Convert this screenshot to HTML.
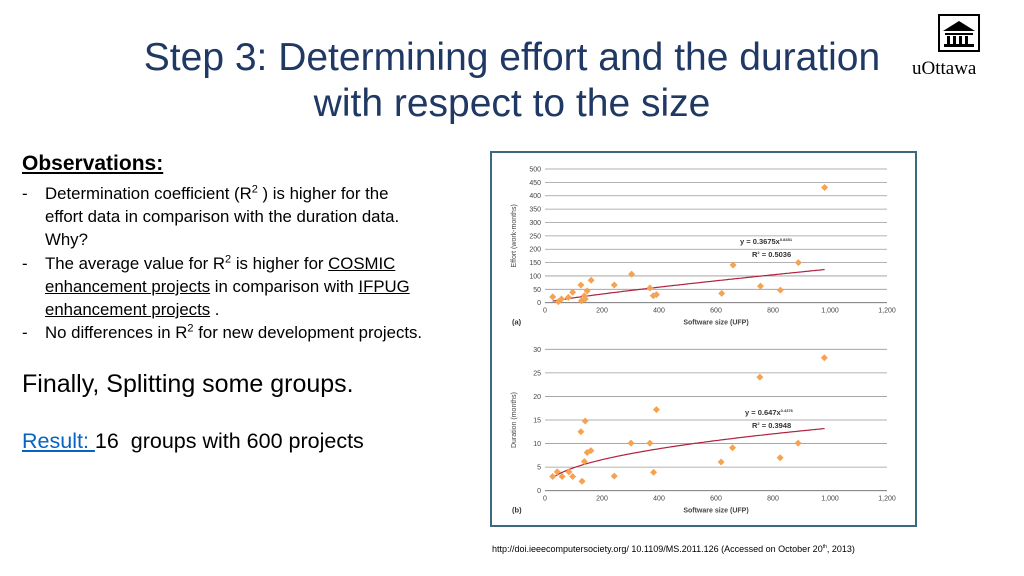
<!DOCTYPE html>
<html><head><meta charset="utf-8"><style>
body{margin:0;width:1024px;height:576px;background:#fff;position:relative;overflow:hidden;font-family:"Liberation Sans",sans-serif;}
.t{position:absolute;white-space:nowrap;color:#000;}
.title{position:absolute;left:0;width:1024px;text-align:center;color:#1f3864;font-size:39px;letter-spacing:0px;}
.ln{position:absolute;white-space:nowrap;font-size:16.8px;line-height:20px;}
u{text-decoration:underline;}
sup{font-size:11px;line-height:0;}
</style></head><body>
<div class="title" style="top:36px">Step 3: Determining effort and the duration</div>
<div class="title" style="top:82px">with respect to the size</div>

<div style="position:absolute;left:905px;top:10px;width:115px;height:68px;">
<svg width="115" height="68" viewBox="0 0 115 68">
<rect x="34" y="5" width="40" height="36" fill="none" stroke="#000" stroke-width="2"/>
<path d="M38 21 L54 11 L70 21 Z" fill="#000"/>
<rect x="40" y="23" width="28" height="2" fill="#000"/>
<rect x="42" y="26" width="3" height="8" fill="#000"/><rect x="48" y="26" width="3" height="8" fill="#000"/><rect x="54" y="26" width="3" height="8" fill="#000"/><rect x="60" y="26" width="3" height="8" fill="#000"/>
<rect x="39" y="34" width="30" height="3" fill="#000"/>
<text x="7" y="64" font-family="Liberation Serif,serif" font-size="19" fill="#000">uOttawa</text>
</svg></div>

<div class="t" style="left:22px;top:152px;font-size:21px;font-weight:bold"><u>Observations:</u></div>
<div>
<div class="ln" style="left:22px;top:184px">-</div><div class="ln" style="left:45px;top:184px">Determination coefficient (R<sup>2</sup> ) is higher for the</div>
<div class="ln" style="left:45px;top:207px">effort data in comparison with the duration data.</div>
<div class="ln" style="left:45px;top:230px">Why?</div>
<div class="ln" style="left:22px;top:254px">-</div><div class="ln" style="left:45px;top:254px">The average value for R<sup>2</sup> is higher for <u>COSMIC</u></div>
<div class="ln" style="left:45px;top:277px"><u>enhancement projects</u> in comparison with <u>IFPUG</u></div>
<div class="ln" style="left:45px;top:300px"><u>enhancement projects</u> .</div>
<div class="ln" style="left:22px;top:323px">-</div><div class="ln" style="left:45px;top:323px">No differences in R<sup>2</sup> for new development projects.</div>
</div>
<div class="t" style="left:22px;top:370px;font-size:25px">Finally, Splitting some groups.</div>
<div class="t" style="left:22px;top:429px;font-size:21.5px"><u style="color:#0563c1">Result: </u>16&nbsp; groups with 600 projects</div>
<div class="t" style="left:492px;top:544px;font-size:9px">http://doi.ieeecomputersociety.org/ 10.1109/MS.2011.126 (Accessed on October 20<sup style="font-size:5px">th</sup>, 2013)</div>

<svg id="ch" width="1024" height="576" style="position:absolute;left:0;top:0">
<rect x="491" y="152" width="425" height="374" fill="none" stroke="#3b6a80" stroke-width="2"/>
</svg>
<script>
const sizes=[27,47,58,82,97,126,128,138,141,148,162,243,304,368,380,391,620,660,756,826,889,981];
const effort=[22,4,14,20,39,66,7,26,14,44,84,66,107,55,26,30,35,141,62,47,150,431];
const sizesB=[27,43,60,84,97,126,130,138,141,148,161,243,302,368,381,391,618,658,754,825,888,980];
const duration=[3,4,3,4,3,12.5,2,6.2,14.8,8.1,8.5,3.1,10.1,10.1,3.9,17.2,6.1,9.1,24.1,7,10.1,28.2];
const xTicks=[0,200,400,600,800,1000,1200];
const xTickLabels=["0","200","400","600","800","1,000","1,200"];
const effortTicks=[0,50,100,150,200,250,300,350,400,450,500];
const durationTicks=[0,5,10,15,20,25,30];
const fitA=[0.3675,0.8451], fitB=[0.647,0.4376];
const svg=document.getElementById('ch');const NS='http://www.w3.org/2000/svg';
function el(t,a){const e=document.createElementNS(NS,t);for(const k in a)e.setAttribute(k,a[k]);svg.appendChild(e);return e;}
const xs=v=>545+v*342/1200;
function panel(p){
 const ys=v=>p.y0-(v-0)*(p.y0-p.y1)/p.max;
 p.ticks.forEach(t=>{
  const l=el('line',{x1:xs(0),x2:xs(1200),y1:ys(t),y2:ys(t),stroke:t===0?'#666':'#999','stroke-width':0.8});
  
  const tx=el('text',{x:xs(0)-4,y:ys(t)+2.5,'font-size':7,'text-anchor':'end',fill:'#444'});tx.textContent=t;
  
 });
 xTicks.forEach((t,i)=>{
  const tx=el('text',{x:xs(t),y:p.y0+10,'font-size':7,'text-anchor':'middle',fill:'#444'});tx.textContent=xTickLabels[i];
  
 });
 let xt=el('text',{x:xs(600),y:p.y0+22,'font-size':7,'font-weight':'bold','text-anchor':'middle',fill:'#444'});xt.textContent='Software size (UFP)';
 
 let pl=el('text',{x:512,y:p.y0+22,'font-size':7.5,'font-weight':'bold',fill:'#333'});pl.textContent=p.label;
 
 const cy=(p.y0+p.y1)/2;
 let yt=el('text',{x:516,y:cy,'font-size':7,'text-anchor':'middle',fill:'#444',transform:`rotate(-90 516 ${cy})`});yt.textContent=p.ytitle;
 
 let d='';for(let x=27;x<=981;x+=6){d+=(d?'L':'M')+xs(x).toFixed(1)+' '+ys(p.fit[0]*Math.pow(x,p.fit[1])).toFixed(1);}
 let c=el('path',{d:d,fill:'none',stroke:'#b0203f','stroke-width':1.2});
 
 p.xv.forEach((x,i)=>{const X=xs(x),Y=ys(p.yv[i]);
  const m=el('path',{d:`M${X} ${Y-3.5}L${X+3.5} ${Y}L${X} ${Y+3.5}L${X-3.5} ${Y}Z`,fill:'#f5a352'});
  });
 p.eq.forEach((s,i)=>{const t=el('text',{x:p.eqx[i],y:p.eqy[i],'font-size':7.5,'font-weight':'bold',fill:'#333'});t.innerHTML=s;
  });
}
panel({y0:302.7,y1:169,max:500,ticks:effortTicks,xv:sizes,yv:effort,fit:fitA,label:'(a)',ytitle:'Effort (work-months)',
 eq:['y = 0.3675x<tspan dy="-3" font-size="4">0.8451</tspan>','R<tspan dy="-3" font-size="4">2</tspan><tspan dy="3"> = 0.5036</tspan>'],eqx:[740,752],eqy:[244,257]});
panel({y0:490.7,y1:349.3,max:30,ticks:durationTicks,xv:sizesB,yv:duration,fit:fitB,label:'(b)',ytitle:'Duration (months)',
 eq:['y = 0.647x<tspan dy="-3" font-size="4">0.4376</tspan>','R<tspan dy="-3" font-size="4">2</tspan><tspan dy="3"> = 0.3948</tspan>'],eqx:[745,752],eqy:[415,428]});
</script>
</body></html>
